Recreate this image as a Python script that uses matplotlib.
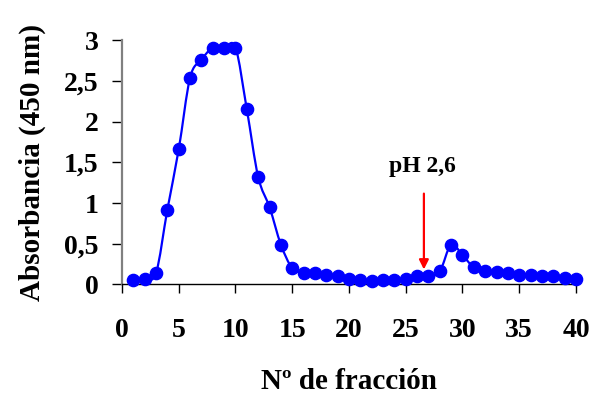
import matplotlib
matplotlib.use('Agg')
import matplotlib.pyplot as plt
from matplotlib.path import Path
from matplotlib.patches import PathPatch

# fraction number vs absorbance
fraction = list(range(1, 41))
absorbance = [0.05, 0.07, 0.14, 0.92, 1.66, 2.54, 2.76, 2.91, 2.91, 2.91,
              2.15, 1.32, 0.95, 0.49, 0.20, 0.145, 0.145, 0.12, 0.10, 0.07,
              0.05, 0.045, 0.05, 0.05, 0.07, 0.11, 0.10, 0.16, 0.49, 0.36,
              0.21, 0.17, 0.15, 0.145, 0.12, 0.12, 0.10, 0.10, 0.08, 0.07]
x_ticks = [0, 5, 10, 15, 20, 25, 30, 35, 40]
y_ticks = [0, 0.5, 1, 1.5, 2, 2.5, 3]
y_tick_labels = ['0', '0,5', '1', '1,5', '2', '2,5', '3']
arrow_x = 26.6
arrow_label = 'pH 2,6'

BLUE = '#0000ff'

plt.rcParams['font.family'] = ['Liberation Serif', 'DejaVu Serif']
plt.rcParams['font.weight'] = 'bold'


def smooth_path(xs, ys):
    # excel-like smoothed line: cubic bezier segments through every point
    n = len(xs)
    verts = [(xs[0], ys[0])]
    codes = [Path.MOVETO]
    for i in range(n - 1):
        x0, y0 = xs[max(i - 1, 0)], ys[max(i - 1, 0)]
        x3, y3 = xs[min(i + 2, n - 1)], ys[min(i + 2, n - 1)]
        c1 = (xs[i] + (xs[i + 1] - x0) / 6, ys[i] + (ys[i + 1] - y0) / 6)
        c2 = (xs[i + 1] - (x3 - xs[i]) / 6, ys[i + 1] - (y3 - ys[i]) / 6)
        verts += [c1, c2, (xs[i + 1], ys[i + 1])]
        codes += [Path.CURVE4] * 3
    return Path(verts, codes)


fig = plt.figure(figsize=(5.91, 3.94), dpi=100)
ax = fig.add_axes([0.2064, 0.278, 0.7682, 0.62])

ax.add_patch(PathPatch(smooth_path(fraction, absorbance), facecolor='none',
                       edgecolor=BLUE, lw=1.6, zorder=3, clip_on=False))
ax.plot(fraction, absorbance, linestyle='none', color=BLUE, marker='o',
        markersize=8.8, clip_on=False, zorder=4)

ax.set_xlim(0, 40)
ax.set_ylim(0, 3)
ax.set_xticks(x_ticks)
ax.set_yticks(y_ticks)
ax.set_yticklabels(y_tick_labels)
ax.tick_params(axis='both', labelsize=20, width=1, colors='black')
ax.tick_params(axis='x', length=6.5, direction='out', pad=18)
ax.tick_params(axis='y', length=7, direction='out', pad=10)
for lab in ax.get_xticklabels() + ax.get_yticklabels():
    lab.set_fontweight('bold')

ax.spines['top'].set_visible(False)
ax.spines['right'].set_visible(False)
ax.spines['left'].set_color('#808080')
ax.spines['left'].set_linewidth(1.6)
ax.spines['bottom'].set_color('black')
ax.spines['bottom'].set_linewidth(1)

ax.set_xlabel('Nº de fracción', fontsize=21, fontweight='bold', labelpad=18)
ax.set_ylabel('Absorbancia (450 nm)', fontsize=21, fontweight='bold', labelpad=13)

ax.annotate('', xy=(arrow_x, 0.15), xytext=(arrow_x, 1.15),
            arrowprops=dict(arrowstyle='-|>', color='red', lw=1.6,
                            mutation_scale=14))
ax.text(arrow_x - 0.1, 1.45, arrow_label, ha='center', va='center',
        fontsize=17, fontweight='bold')

fig.savefig('out.png', dpi=100, facecolor='white')
